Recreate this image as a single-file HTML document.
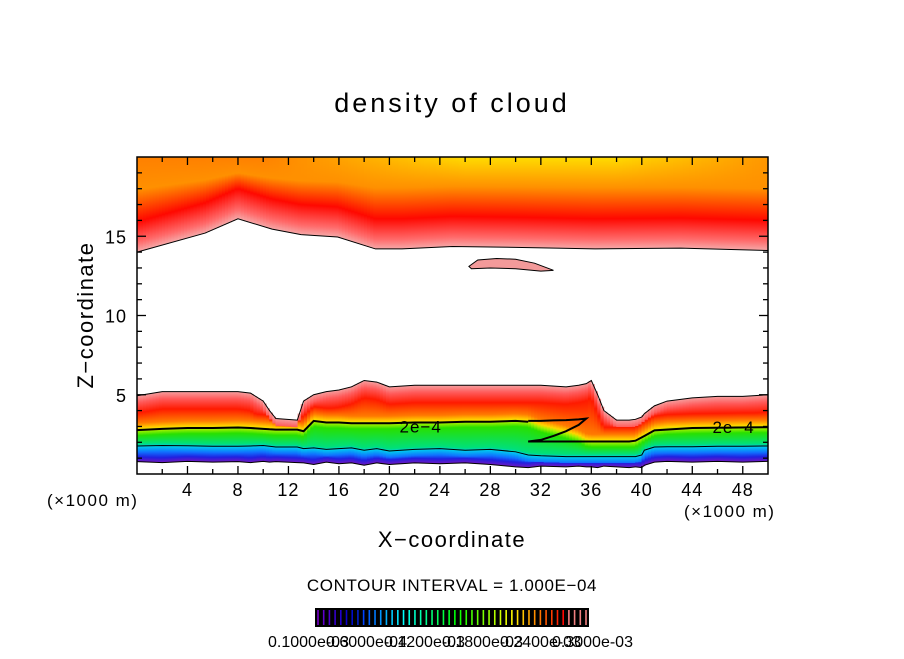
<!DOCTYPE html>
<html><head><meta charset="utf-8"><style>
body{margin:0;background:#fff;}
svg text{font-family:"Liberation Sans",sans-serif;fill:#000;}
</style></head><body>
<svg id="chart" width="904" height="654" viewBox="0 0 904 654" xmlns="http://www.w3.org/2000/svg">
<defs id="defs"></defs>
<rect width="904" height="654" fill="#fff"/>
<text x="452" y="112" font-size="27" text-anchor="middle" letter-spacing="3">density of cloud</text>
<g id="field"></g>
<g id="contours"></g>
<g id="axes"></g>
<text x="93" y="315" font-size="22" text-anchor="middle" letter-spacing="1.5" transform="rotate(-90 93 315)">Z−coordinate</text>
<text x="452" y="547" font-size="22" text-anchor="middle" letter-spacing="1.5">X−coordinate</text>
<text x="47" y="506" font-size="17" letter-spacing="1.5">(×1000 m)</text>
<text x="684" y="517" font-size="17" letter-spacing="1.5">(×1000 m)</text>
<text x="452" y="591" font-size="17" text-anchor="middle" letter-spacing="0.6">CONTOUR INTERVAL = 1.000E−04</text>
<g id="cbar"></g>
</svg>
<script>
// ---- data (x in km, z in km) ----
const upperX = [0,5.4,8,10.7,13,15.9,18.9,21,25,30,36.3,43.1,50];
const upperZ = [14.0,15.2,16.1,15.45,15.1,14.95,14.2,14.2,14.35,14.3,14.2,14.25,14.1];
const lowX = [0,2,4,6,8,9,10,10.5,11,12.7,13.2,14,15,16,17,18,19,20,22,24,26,28,30,31,32,34,35,35.6,36,36.5,37,38,39,39.5,40,40.2,41,42,44,46,48,50];
const lowTop = [4.94,5.2,5.2,5.2,5.2,5.1,4.6,4.0,3.5,3.4,4.6,5.0,5.2,5.3,5.5,5.9,5.8,5.5,5.6,5.6,5.6,5.6,5.6,5.6,5.6,5.5,5.6,5.7,5.9,5.0,4.0,3.4,3.4,3.45,3.6,3.8,4.3,4.6,4.8,4.9,4.9,5.0];
const lowC = [2.77,2.85,2.9,2.9,2.93,2.9,2.85,2.82,2.8,2.8,2.7,3.35,3.25,3.25,3.2,3.2,3.2,3.2,3.25,3.25,3.3,3.3,3.35,3.3,3.0,2.6,2.35,2.1,2.05,2.05,2.05,2.05,2.05,2.05,2.3,2.4,2.75,2.85,2.9,2.92,2.95,2.95];
const lowL = [1.77,1.8,1.78,1.75,1.75,1.77,1.8,1.75,1.7,1.7,1.6,1.65,1.55,1.6,1.65,1.5,1.6,1.45,1.55,1.6,1.5,1.55,1.4,1.2,1.15,1.1,1.1,1.1,1.1,1.1,1.1,1.1,1.1,1.1,1.2,1.5,1.7,1.72,1.72,1.75,1.75,1.77];
const lowB = [0.78,0.72,0.8,0.75,0.78,0.72,0.8,0.75,0.78,0.72,0.7,0.6,0.75,0.65,0.7,0.55,0.7,0.6,0.7,0.65,0.7,0.6,0.45,0.4,0.5,0.45,0.5,0.45,0.45,0.4,0.5,0.45,0.4,0.45,0.4,0.55,0.75,0.8,0.75,0.8,0.75,0.8];
const hookX = [31,32,33,34,35,35.6,35,34,33,32,31];
const hookZ = [3.35,3.35,3.38,3.4,3.45,3.5,3.1,2.7,2.4,2.15,2.05];
const hookLowX = [31,33,35,37,39,39.5,40.2,41,44,50];
const hookLowZ = [2.05,2.05,2.05,2.05,2.05,2.1,2.4,2.75,2.9,2.95];
const blobX = [26.3,27,28.5,30,31.5,33,32,30,28,26.5,26.3];
const blobZ = [13.1,13.5,13.6,13.55,13.3,12.85,12.8,12.95,13.0,12.95,13.1];
const xTicks = [4,8,12,16,20,24,28,32,36,40,44,48];
const yTicks = [5,10,15];
const cbarLabels = ["0.1000e-03","0.6000e-04","0.1200e-03","0.1800e-03","0.2400e-03","0.3000e-03"];
const contourLabelX = [20.8,45.6];
const contourLabelZ = [3.0,2.95];

// ---- scales ----
const X0=137,X1=768,Y0=474,Y1=157;
const sx = k => X0 + k*(X1-X0)/50;
const sy = z => Y0 - z*(Y0-Y1)/20;
const NS="http://www.w3.org/2000/svg";
function mk(tag,attrs,parent){const e=document.createElementNS(NS,tag);for(const k in attrs)e.setAttribute(k,attrs[k]);parent.appendChild(e);return e;}
function interp(xs,ys,x){if(x<=xs[0])return ys[0];for(let i=1;i<xs.length;i++){if(x<=xs[i]){const t=(x-xs[i-1])/(xs[i]-xs[i-1]);return ys[i-1]+t*(ys[i]-ys[i-1]);}}return ys[ys.length-1];}
const defs=document.getElementById('defs'),field=document.getElementById('field');
function grad(id,y1,y2,stops){
  const g=mk('linearGradient',{id:id,gradientUnits:'userSpaceOnUse',x1:0,x2:0,y1:y1,y2:y2},defs);
  let last=0;
  stops.forEach(s=>{let o=Math.min(1,Math.max(last,s[0]));last=o;mk('stop',{offset:o,'stop-color':s[1]},g);});
}
function mix(a,b,t){const pa=[parseInt(a.slice(1,3),16),parseInt(a.slice(3,5),16),parseInt(a.slice(5,7),16)],pb=[parseInt(b.slice(1,3),16),parseInt(b.slice(3,5),16),parseInt(b.slice(5,7),16)];return 'rgb('+pa.map((v,i)=>Math.round(v+(pb[i]-v)*t)).join(',')+')';}
const step=0.25;
let n=0;
for(let x=0;x<50;x+=step){
  const xm=x+step/2;
  const u=interp(upperX,upperZ,xm);
  const yt=sy(20),yb=sy(u),H=20-u;
  const d=Math.abs(xm-32);
  const topc=mix('#ffdc00','#ff8000',Math.min(1,Math.max(0,(d-6)/16)));
  const r=Math.min(19.3,u+1.9);
  const f=z=>(20-z)/H;
  grad('gu'+n,yt,yb,[[0,topc],[f((20+r)/2),'#ff9000'],[f(r),'#ff0800'],[f(u+0.6),'#ff6a6a'],[1,'#f6a8a8']]);
  const ru=mk('rect',{x:sx(x)-0.3,y:yt,width:sx(step)-X0+0.6,height:yb-yt,fill:'url(#gu'+n+')'},field);
  
  
  const t=interp(lowX,lowTop,xm),c=interp(lowX,lowC,xm),l=interp(lowX,lowL,xm),b=interp(lowX,lowB,xm);
  const h=t-b,g=z=>(t-z)/h;
  grad('gl'+n,sy(t),sy(b),[[0,'#f5a0a0'],[g(t-0.45),'#ff5a5a'],[g(Math.max(c+0.9,t-1.1)),'#ff1a00'],[g(c+0.45),'#ff7a00'],[g(c+0.12),'#ffd400'],[g(c-0.05),'#a8f000'],[g(c-0.35),'#28e000'],[g(l+0.15),'#00e07a'],[g(l-0.05),'#00c8f0'],[g(l-0.4),'#1070ff'],[g(b+0.3),'#2020e0'],[1,'#7018c0']]);
  const rl=mk('rect',{x:sx(x)-0.3,y:sy(t),width:sx(step)-X0+0.6,height:sy(b)-sy(t),fill:'url(#gl'+n+')'},field);
  
  
  n++;
}
const bp=blobX.map((x,i)=>sx(x)+','+sy(blobZ[i])).join(' ');
const blob=mk('polygon',{points:bp,fill:'#f39a9a',stroke:'#000','stroke-width':1},field);



const cg=document.getElementById('contours');
function line(xs,zs,w,name){const p=mk('polyline',{points:xs.map((x,i)=>sx(x)+','+sy(zs[i])).join(' '),fill:'none',stroke:'#000','stroke-width':w},cg);}
line(upperX,upperZ,1,'upper-cloud-edge');
line(lowX,lowTop,1,'lower-cloud-top-edge');
line(lowX,lowB,1,'lower-cloud-bottom-edge');
line(lowX,lowL,1,'contour-1e-4');
const cX=lowX.filter(x=>x<=31),cZ=lowC.slice(0,cX.length);
line(cX,cZ,2,'contour-2e-4-left');
line(hookX,hookZ,2,'contour-2e-4-hook');
line(hookLowX,hookLowZ,2,'contour-2e-4-right');
contourLabelX.forEach((x,i)=>{
  const tx=mk('text',{x:sx(x),y:sy(contourLabelZ[i])+6,'font-size':17,'letter-spacing':1},cg);
  tx.textContent='2e−4';
  
  
});

const ax=document.getElementById('axes');
const frame=mk('rect',{x:X0,y:Y1,width:X1-X0,height:Y0-Y1,fill:'none',stroke:'#000','stroke-width':1.5},ax);


for(let k=2;k<50;k+=2){const L=(k%4===0)?8:5;
  mk('line',{x1:sx(k),x2:sx(k),y1:Y0,y2:Y0-L,stroke:'#000','stroke-width':1.3},ax);
  mk('line',{x1:sx(k),x2:sx(k),y1:Y1,y2:Y1+L,stroke:'#000','stroke-width':1.3},ax);}
for(let z=1;z<20;z+=1){const L=(z%5===0)?9:5;
  mk('line',{x1:X0,x2:X0+L,y1:sy(z),y2:sy(z),stroke:'#000','stroke-width':1.3},ax);
  mk('line',{x1:X1,x2:X1-L,y1:sy(z),y2:sy(z),stroke:'#000','stroke-width':1.3},ax);}
xTicks.forEach(k=>{const t=mk('text',{x:sx(k),y:496,'font-size':18,'text-anchor':'middle','letter-spacing':1},ax);t.textContent=k;
  
  });
yTicks.forEach(z=>{const t=mk('text',{x:127,y:sy(z)+7,'font-size':18,'text-anchor':'end','letter-spacing':1},ax);t.textContent=z;
  
  });

const cb=document.getElementById('cbar');
mk('rect',{x:315,y:608,width:274,height:19,fill:'#000'},cb);
const N=48;
for(let i=0;i<N;i++){
  const f=i/(N-1);
  let col;
  if(f<0.92){const hue=275-f/0.92*275;col='hsl('+hue+',100%,'+(f<0.15?40:50)+'%)';}else col='#f08080';
  const xx=318+f*268;
  const ln=mk('line',{x1:xx,x2:xx,y1:610,y2:625,stroke:col,'stroke-width':1.6},cb);
  
  
}
const starts=[268,326,384,442,500,552];
cbarLabels.forEach((s,i)=>{const t=mk('text',{x:starts[i],y:647,'font-size':16},cb);t.textContent=s;
  
  });
</script>
</body></html>
